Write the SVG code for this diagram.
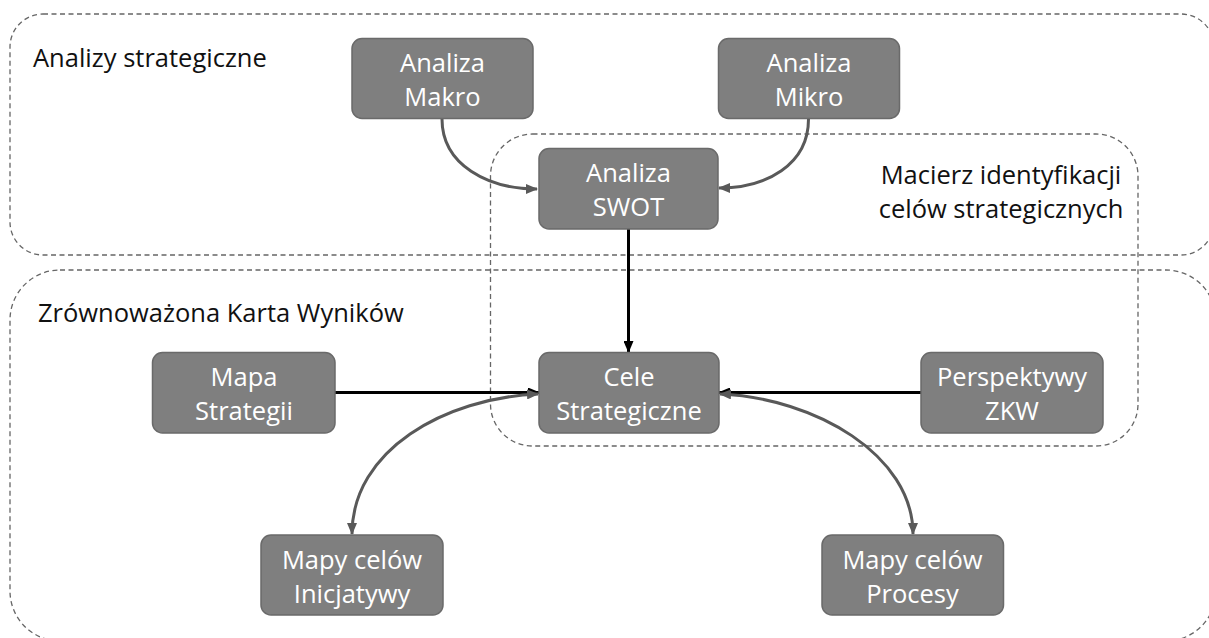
<svg xmlns="http://www.w3.org/2000/svg" width="1209" height="638" viewBox="0 0 1209 638">
  <style>
    .zone { fill: none; stroke: #666666; stroke-width: 1.3; stroke-dasharray: 5 3.5; }
    .zone-label { font-family: "Open Sans", "Noto Sans", sans-serif; font-size: 25.5px; fill: #111111; }
    .box { fill: #7f7f7f; stroke: #6a6a6a; stroke-width: 1.5; }
    .box-text { font-family: "Open Sans", "Noto Sans", sans-serif; font-size: 25.5px; fill: #ffffff; text-anchor: middle; }
    .link-black { fill: none; stroke: #000000; stroke-width: 3; }
    .link-grey { fill: none; stroke: #595959; stroke-width: 3; }
  </style>
  <defs>
    <marker id="arrow-black" viewBox="0 0 12 10" refX="11" refY="5" markerWidth="12" markerHeight="10" markerUnits="userSpaceOnUse" orient="auto-start-reverse">
      <path d="M0,0 L12,5 L0,10 z" fill="#000000"/>
    </marker>
    <marker id="arrow-grey" viewBox="0 0 12 10" refX="11" refY="5" markerWidth="12" markerHeight="10" markerUnits="userSpaceOnUse" orient="auto-start-reverse">
      <path d="M0,0 L12,5 L0,10 z" fill="#595959"/>
    </marker>
  </defs>

  <rect width="1209" height="638" fill="#ffffff"/>

  <!-- dashed grouping areas -->
  <g id="zones">
    <rect class="zone" x="10" y="14" width="1204" height="241" rx="33" ry="33"/>
    <rect class="zone" x="10" y="270" width="1206" height="371" rx="50" ry="50"/>
    <rect class="zone" x="490.5" y="134" width="647.5" height="312" rx="42" ry="42"/>
    <text class="zone-label" x="33" y="67">Analizy strategiczne</text>
    <text class="zone-label" x="38" y="322">Zrównoważona Karta Wyników</text>
    <text class="zone-label" x="1001" y="184" text-anchor="middle">Macierz identyfikacji</text>
    <text class="zone-label" x="1001" y="218" text-anchor="middle">celów strategicznych</text>
  </g>

  <!-- connectors -->
  <g id="connectors">
    <path class="link-grey" d="M442,119 C442,165 488,189 537,189" marker-end="url(#arrow-grey)"/>
    <path class="link-grey" d="M808.5,119 C808.5,165 766,188 719,188" marker-end="url(#arrow-grey)"/>
    <path class="link-black" d="M628.5,229 L628.5,352" marker-end="url(#arrow-black)"/>
    <path class="link-black" d="M335,392.5 L539,392.5" marker-end="url(#arrow-black)"/>
    <path class="link-black" d="M921,392.5 L719,392.5" marker-end="url(#arrow-black)"/>
    <path class="link-grey" d="M538,394 C445,398 352,450 352,534" marker-start="url(#arrow-grey)" marker-end="url(#arrow-grey)"/>
    <path class="link-grey" d="M720,394 C815,398 913,455 913,534" marker-start="url(#arrow-grey)" marker-end="url(#arrow-grey)"/>
  </g>

  <!-- nodes -->
  <g id="node-makro">
    <rect class="box" x="352" y="38.5" width="181" height="80" rx="10" ry="10"/>
    <text class="box-text" x="442.5" y="71.5">Analiza</text>
    <text class="box-text" x="442.5" y="105.5">Makro</text>
  </g>
  <g id="node-mikro">
    <rect class="box" x="718.5" y="38.5" width="181" height="80" rx="10" ry="10"/>
    <text class="box-text" x="809" y="71.5">Analiza</text>
    <text class="box-text" x="809" y="105.5">Mikro</text>
  </g>
  <g id="node-swot">
    <rect class="box" x="539" y="148.5" width="179" height="80.5" rx="10" ry="10"/>
    <text class="box-text" x="628.5" y="182">Analiza</text>
    <text class="box-text" x="628.5" y="216">SWOT</text>
  </g>
  <g id="node-cele">
    <rect class="box" x="539" y="352.5" width="180" height="80.5" rx="10" ry="10"/>
    <text class="box-text" x="629" y="386">Cele</text>
    <text class="box-text" x="629" y="420">Strategiczne</text>
  </g>
  <g id="node-mapa">
    <rect class="box" x="152.5" y="352.5" width="182.5" height="80.5" rx="10" ry="10"/>
    <text class="box-text" x="244" y="386">Mapa</text>
    <text class="box-text" x="244" y="420">Strategii</text>
  </g>
  <g id="node-perspektywy">
    <rect class="box" x="921" y="352.5" width="182" height="80.5" rx="10" ry="10"/>
    <text class="box-text" x="1012" y="386">Perspektywy</text>
    <text class="box-text" x="1012" y="420">ZKW</text>
  </g>
  <g id="node-inicjatywy">
    <rect class="box" x="261" y="535" width="182" height="80" rx="10" ry="10"/>
    <text class="box-text" x="352" y="568.5">Mapy celów</text>
    <text class="box-text" x="352" y="602.5">Inicjatywy</text>
  </g>
  <g id="node-procesy">
    <rect class="box" x="822" y="535" width="181.5" height="80" rx="10" ry="10"/>
    <text class="box-text" x="912.5" y="568.5">Mapy celów</text>
    <text class="box-text" x="912.5" y="602.5">Procesy</text>
  </g>
</svg>
